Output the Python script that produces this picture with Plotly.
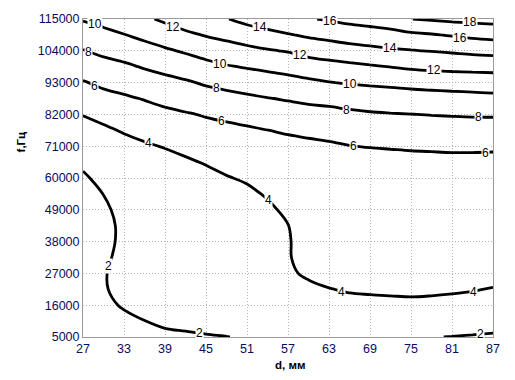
import plotly.graph_objects as go

# d, mm (columns) and f, Hz (rows)
d_mm = [27, 30, 33, 36, 39, 42, 45, 48, 51, 54, 57, 60, 63, 66, 69, 72, 75, 78, 81, 84, 87]
f_hz = [5000, 10500, 16000, 21500, 27000, 32500, 38000, 43500, 49000, 54500, 60000,
        65500, 71000, 76500, 82000, 87500, 93000, 98500, 104000, 109500, 115000]

# estimated field values per d column (bottom -> top, one value per f row)
col27 = [1.2, 1.25, 1.3, 1.35, 1.4, 1.35, 1.3, 1.3, 1.35, 1.45, 1.76, 2.32, 2.89, 3.19, 4.08, 4.98, 5.87, 6.89, 7.92, 9.03, 10.14]
col30 = [1.5, 1.65, 1.81, 1.88, 1.9, 1.8, 1.75, 1.7, 1.7, 2.02, 2.48, 2.93, 3.38, 3.68, 4.56, 5.44, 6.36, 7.36, 8.40, 9.49, 10.58]
col33 = [1.53, 1.805, 2.08, 2.40, 2.46, 2.30, 2.19, 2.22, 2.51, 2.75, 2.95, 3.1, 3.38, 4.17, 4.96, 5.76, 6.69, 7.69, 8.79, 9.94, 11.07]
col36 = [1.72, 1.99, 2.275, 2.4, 2.5, 2.55, 2.6, 2.7, 2.8, 2.95, 3.1, 3.35, 3.78, 4.54, 5.31, 6.09, 7.11, 8.14, 9.28, 10.45, 11.69]
col39 = [1.855, 2.12, 2.395, 2.55, 2.6, 2.65, 2.72, 2.8, 2.88, 2.97, 3.1, 3.36, 4.11, 4.86, 5.61, 6.47, 7.46, 8.54, 9.74, 11.02, 12.33]
col42 = [1.90, 2.175, 2.45, 2.58, 2.65, 2.72, 2.8, 2.9, 3.0, 3.15, 3.35, 3.76, 4.46, 5.16, 5.86, 6.79, 7.78, 8.96, 10.21, 11.62, 13.0]
col45 = [1.95, 2.23, 2.5, 2.65, 2.72, 2.8, 2.9, 3.0, 3.1, 3.25, 3.48, 4.13, 4.78, 5.43, 6.13, 7.16, 8.22, 9.43, 10.73, 12.13, 13.5]
col48 = [1.99, 2.27, 2.54, 2.72, 2.8, 2.9, 3.0, 3.1, 3.25, 3.45, 3.90, 4.50, 5.09, 5.69, 6.28, 7.47, 8.50, 9.86, 11.17, 12.51, 13.92]
col51 = [2.05, 2.35, 2.6, 2.75, 2.85, 2.95, 3.05, 3.2, 3.4, 3.66, 4.21, 4.76, 5.30, 5.85, 6.40, 7.68, 8.85, 10.13, 11.5, 13.0, 14.57]
col54 = [2.35, 2.6, 2.85, 3.0, 3.1, 3.2, 3.3, 3.45, 3.70, 4.16, 4.62, 5.08, 5.53, 5.99, 6.96, 7.93, 9.12, 10.39, 11.84, 13.42, 15.08]
col57 = [2.6, 2.95, 3.3, 3.6, 3.91, 3.935, 3.905, 3.97, 4.32, 4.68, 5.03, 5.39, 5.74, 6.10, 7.19, 8.15, 9.36, 10.68, 12.13, 13.87, 15.55]
col60 = [2.75, 3.2, 3.55, 3.87, 4.09, 4.32, 4.54, 4.77, 4.99, 5.21, 5.44, 5.66, 5.89, 6.11, 7.41, 8.35, 9.65, 11.07, 12.64, 14.29, 15.86]
col63 = [2.8, 3.3, 3.7, 3.98, 4.20, 4.41, 4.63, 4.85, 5.07, 5.28, 5.50, 5.72, 5.93, 6.16, 7.55, 8.45, 9.93, 11.35, 12.94, 14.60, 16.19]
col66 = [2.8, 3.4, 3.83, 4.05, 4.26, 4.48, 4.70, 4.91, 5.13, 5.34, 5.56, 5.77, 5.99, 6.20, 7.73, 8.60, 10.16, 11.58, 13.24, 14.91, 16.53]
col69 = [2.7, 3.35, 3.86, 4.07, 4.29, 4.50, 4.72, 4.94, 5.15, 5.37, 5.59, 5.80, 6.02, 6.96, 7.84, 8.80, 10.32, 11.81, 13.5, 15.15, 16.76]
col72 = [2.5, 3.3, 3.87, 4.09, 4.31, 4.53, 4.75, 4.96, 5.18, 5.40, 5.61, 5.83, 6.04, 7.05, 7.92, 8.90, 10.46, 12.03, 13.72, 15.39, 17.06]
col75 = [2.25, 3.2, 3.88, 4.11, 4.32, 4.54, 4.76, 4.98, 5.19, 5.41, 5.63, 5.85, 6.06, 7.12, 7.98, 9.10, 10.61, 12.27, 13.91, 15.63, 17.98]
col78 = [2.04, 3.1, 3.87, 4.09, 4.32, 4.54, 4.76, 4.98, 5.20, 5.42, 5.64, 5.86, 6.074, 7.17, 8.05, 9.20, 10.74, 12.42, 14.07, 15.87, 18.2]
col81 = [1.973, 2.72, 3.84, 4.065, 4.29, 4.51, 4.74, 4.96, 5.19, 5.41, 5.64, 5.86, 6.093, 7.21, 8.11, 9.30, 10.84, 12.5, 14.24, 16.16, 18.41]
col84 = [1.90, 2.63, 3.80, 4.03, 4.26, 4.49, 4.72, 4.95, 5.18, 5.41, 5.64, 5.86, 6.093, 7.23, 8.16, 9.38, 10.91, 12.57, 14.44, 16.45, 18.53]
col87 = [1.83, 2.53, 3.4, 3.97, 4.21, 4.45, 4.68, 4.91, 5.15, 5.38, 5.62, 5.85, 6.086, 7.22, 8.17, 9.51, 10.97, 12.63, 14.59, 16.63, 18.67]

columns = [col27, col30, col33, col36, col39, col42, col45, col48, col51, col54, col57,
           col60, col63, col66, col69, col72, col75, col78, col81, col84, col87]
z = [[col[i] for col in columns] for i in range(len(f_hz))]

x_ticks = [27, 33, 39, 45, 51, 57, 63, 69, 75, 81, 87]
y_ticks = [5000, 16000, 27000, 38000, 49000, 60000, 71000, 82000, 93000, 104000, 115000]
levels = dict(start=2, end=18, size=2)

# inline contour label texts and where they sit (placement, as in the reference)
label_text = ["10", "10", "10", "12", "12", "12", "14", "14", "16", "16", "18",
              "8", "8", "8", "8", "6", "6", "6", "6", "4", "4", "4", "4", "2", "2", "2"]
label_pos = [(28.8, 113200), (47.0, 99500), (66.1, 92500),
             (40.2, 112300), (58.8, 102400), (78.3, 97200),
             (52.9, 112100), (71.9, 104900),
             (63.2, 114300), (82.2, 108600),
             (83.7, 113800),
             (27.8, 103500), (46.5, 91000), (65.6, 83600), (84.9, 81100),
             (28.7, 91900), (47.3, 79600), (66.6, 71100), (85.9, 68800),
             (36.6, 72200), (54.1, 52300), (64.9, 20700), (84.1, 20600),
             (30.8, 29500), (44.1, 6250), (85.1, 6150)]

FONT = "Liberation Sans, Arial, sans-serif"
TICKCOL = "#0b0b5c"

fig = go.Figure(go.Contour(
    x=d_mm, y=f_hz, z=z,
    contours=dict(coloring="lines", showlabels=False, **levels),
    colorscale=[[0, "black"], [1, "black"]],
    line=dict(width=2.8, smoothing=1),
    showscale=False, hoverinfo="skip",
))

axis_common = dict(showgrid=True, gridcolor="#b4b4b4", griddash="1px,2px", gridwidth=1,
                   showline=True, linecolor="#9a9a9a", linewidth=1, mirror=True,
                   zeroline=False, ticks="", tickfont=dict(family=FONT, size=12.5, color=TICKCOL))

fig.update_xaxes(range=[27, 87], tickvals=x_ticks, ticktext=[str(v) for v in x_ticks], **axis_common)
fig.update_yaxes(range=[5000, 115000], tickvals=y_ticks, ticktext=[str(v) for v in y_ticks], **axis_common)

annotations = [
    dict(text="<b>d, мм</b>", xref="paper", yref="paper", x=(290 - 83) / 410, y=-(365 - 337) / 322,
         showarrow=False, font=dict(family=FONT, size=11.5, color="black"), xanchor="center", yanchor="middle"),
    dict(text="<b>f,Гц</b>", xref="paper", yref="paper", x=-(83 - 21) / 410, y=(337 - 140) / 322,
         showarrow=False, textangle=-90, font=dict(family=FONT, size=11.5, color="black"),
         xanchor="center", yanchor="middle"),
]
for t, (lx, ly) in zip(label_text, label_pos):
    annotations.append(dict(text=t, x=lx, y=ly, xref="x", yref="y", showarrow=False,
                            font=dict(family=FONT, size=12, color="black"),
                            bgcolor="white", borderpad=0, xanchor="center", yanchor="middle"))

fig.update_layout(
    width=515, height=380,
    margin=dict(l=83, r=22, t=15, b=43),
    paper_bgcolor="white", plot_bgcolor="white",
    showlegend=False,
    annotations=annotations,
)

fig.write_html("out.html")
